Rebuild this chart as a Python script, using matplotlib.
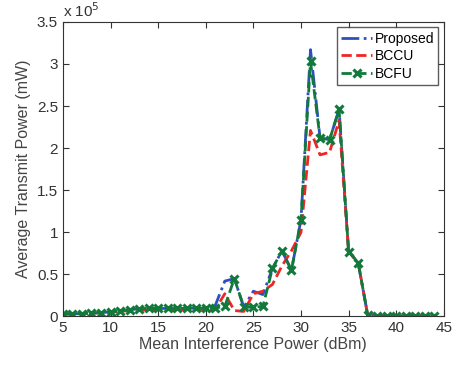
import numpy as np
import matplotlib.pyplot as plt

plt.rcParams['font.family'] = ['Liberation Sans', 'DejaVu Sans']

# mean interference power (dBm)
x = list(range(5, 45))

# average transmit power, in units of 1e5 mW
proposed = [0.03, 0.03, 0.035, 0.04, 0.045, 0.055, 0.065, 0.08, 0.09, 0.095,
            0.095, 0.095, 0.095, 0.095, 0.10, 0.10, 0.13, 0.42, 0.45, 0.11,
            0.30, 0.26, 0.57, 0.78, 0.55, 1.15, 3.17, 2.12, 2.10, 2.46,
            0.77, 0.64, 0.02, 0.01, 0.01, 0.01, 0.01, 0.01, 0.01, 0.01]
bccu = [0.03, 0.03, 0.035, 0.04, 0.045, 0.05, 0.06, 0.07, 0.075, 0.08,
        0.08, 0.08, 0.08, 0.08, 0.08, 0.07, 0.08, 0.27, 0.07, 0.06,
        0.27, 0.30, 0.38, 0.60, 0.78, 1.00, 2.21, 1.92, 1.95, 2.33,
        0.77, 0.64, 0.02, 0.01, 0.01, 0.01, 0.01, 0.01, 0.01, 0.01]
bcfu = [0.03, 0.03, 0.035, 0.04, 0.045, 0.055, 0.065, 0.08, 0.09, 0.095,
        0.095, 0.095, 0.095, 0.095, 0.10, 0.10, 0.10, 0.12, 0.45, 0.11,
        0.11, 0.12, 0.57, 0.78, 0.55, 1.15, 3.03, 2.12, 2.10, 2.46,
        0.77, 0.64, 0.02, 0.01, 0.01, 0.01, 0.01, 0.01, 0.01, 0.01]

xticks = list(range(5, 50, 5))
yticks = [0, 0.5, 1, 1.5, 2, 2.5, 3, 3.5]

fig = plt.figure(figsize=(4.59, 3.65), dpi=100)
ax = fig.add_axes([0.137, 0.133, 0.83, 0.807])

ax.plot(x, proposed, '-.', color='#2f4fbf', lw=2, label='Proposed')
ax.plot(x, bccu, '--', color='#f02525', lw=2, label='BCCU')
ax.plot(x, bcfu, '--', color='#117a3a', lw=2, marker='x', ms=6, mew=2.2,
        label='BCFU')

ax.set_xlim(5, 45)
ax.set_ylim(0, 3.5)
ax.set_xticks(xticks)
ax.set_yticks(yticks)
ax.set_yticklabels(['0', '0.5', '1', '1.5', '2', '2.5', '3', '3.5'])
ax.tick_params(direction='in', top=True, right=True, labelsize=11,
               colors='#333333', length=4)
for s in ax.spines.values():
    s.set_color('#333333')

ax.set_xlabel('Mean Interference Power (dBm)', fontsize=11.5, color='#444444',
              labelpad=1)
ax.set_ylabel('Average Transmit Power (mW)', fontsize=11.5, color='#444444',
              labelpad=4)
ax.text(0.0, 1.005, r'x 10$^5$', transform=ax.transAxes, fontsize=11,
        color='#333333', ha='left', va='bottom')

leg = ax.legend(loc='upper right', fontsize=10, handlelength=2.2,
                borderpad=0.3, labelspacing=0.25, handletextpad=0.2,
                fancybox=False, borderaxespad=0.4)
leg.get_frame().set_edgecolor('#333333')
leg.get_frame().set_linewidth(1.0)

plt.savefig('out.png', dpi=100)
